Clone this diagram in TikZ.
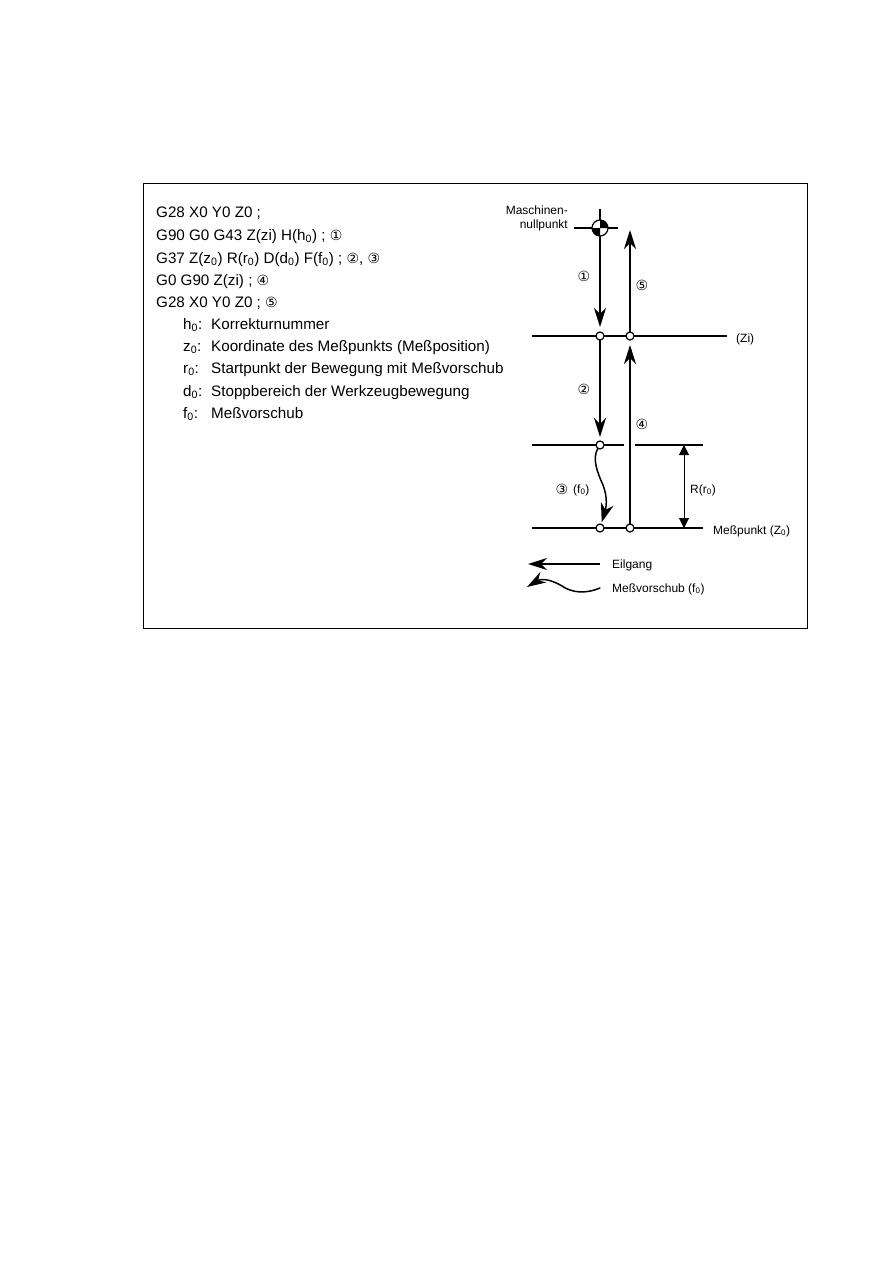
\documentclass[tikz,border=0pt]{standalone}
\usepackage{fontspec}
\setmainfont{Liberation Sans}
\newfontfamily\circfont{DejaVu Sans}
\usetikzlibrary{positioning}
\usetikzlibrary{arrows.meta}
\newcommand{\circled}[1]{{\circfont\fontsize{14}{16}\selectfont #1}}
\begin{document}
\begin{tikzpicture}[
x=1pt, y=-1pt,
codeline/.style={anchor=base west, inner sep=0pt, font=\fontsize{15.2}{18}\selectfont},
smalltext/.style={inner sep=0pt, font=\fontsize{12}{14}\selectfont},
point/.style={circle, draw=black, fill=white, line width=1.2pt, minimum size=8pt, inner sep=0pt, outer sep=0pt},
levelline/.style={line width=1.2pt},
rapid/.style={line width=1.7pt, -{Stealth[length=19pt, width=12pt, inset=6pt]}},
feed/.style={line width=1.5pt, line cap=round, -{Stealth[length=19pt, width=13pt, inset=6pt]}}
]
\useasboundingbox (0,0) rectangle (893,1263);

%Frame
\node[draw=black, line width=1pt, minimum width=664pt, minimum height=445pt, inner sep=0pt] (frame) at (475,405.5) {};

%Program
\node[codeline] (line1) at (156,217) {G28 X0 Y0 Z0 ;};
\node[codeline] (line2) at (156,240) {G90 G0 G43 Z(zi) H(h\textsubscript{0}) ; \circled{①}};
\node[codeline] (line3) at (156,263) {G37 Z(z\textsubscript{0}) R(r\textsubscript{0}) D(d\textsubscript{0}) F(f\textsubscript{0}) ; \circled{②}, \circled{③}};
\node[codeline] (line4) at (156,285) {G0 G90 Z(zi) ; \circled{④}};
\node[codeline] (line5) at (156,307) {G28 X0 Y0 Z0 ; \circled{⑤}};
\node[codeline] (key1) at (183,329) {h\textsubscript{0}:};
\node[codeline] (key2) at (183,351) {z\textsubscript{0}:};
\node[codeline] (key3) at (183,373) {r\textsubscript{0}:};
\node[codeline] (key4) at (183,396) {d\textsubscript{0}:};
\node[codeline] (key5) at (183,418) {f\textsubscript{0}:};
\node[codeline] (text1) at (211,329) {Korrekturnummer};
\node[codeline] (text2) at (211,351) {Koordinate des Meßpunkts (Meßposition)};
\node[codeline] (text3) at (211,373) {Startpunkt der Bewegung mit Meßvorschub};
\node[codeline] (text4) at (211,396) {Stoppbereich der Werkzeugbewegung};
\node[codeline] (text5) at (211,418) {Meßvorschub};

%Nodes
\node[point, minimum size=16pt] (origin) at (600,228) {};
\node[point] (zi1) at (600,336) {};
\node[point] (zi2) at (630,336) {};
\node[point] (start) at (600,445) {};
\node[point] (meas1) at (600,528) {};
\node[point] (meas2) at (630,528) {};

%Coordinates
\coordinate (originleft) at (574,228);
\coordinate (originright) at (618,228);
\coordinate (origintop) at (600,209);
\coordinate (top5) at (630,230);
\coordinate (zileft) at (532,336);
\coordinate (ziright) at (727,336);
\coordinate (startleft) at (532,445);
\coordinate (startgap1) at (624,445);
\coordinate (startgap2) at (635,445);
\coordinate (startright) at (703,445);
\coordinate (measleft) at (532,528);
\coordinate (measright) at (703,528);
\coordinate (rtop) at (684,445);
\coordinate (rbottom) at (684,528);
\coordinate (rapidend) at (600,564);
\coordinate (rapidtip) at (528,564);
\coordinate (feedend) at (600,588);
\coordinate (feedtip) at (527,587);

%Lines
\draw[levelline] (originleft) -- (origin);
\draw[levelline] (origin) -- (originright);
\draw[levelline] (origintop) -- (origin);
\fill (origin.center) -- (origin.east) arc[start angle=0, end angle=90, radius=8pt] -- cycle;
\fill (origin.center) -- (origin.west) arc[start angle=180, end angle=270, radius=8pt] -- cycle;
\draw[levelline] (zileft) -- (zi1);
\draw[levelline] (zi1) -- (zi2);
\draw[levelline] (zi2) -- (ziright);
\draw[levelline] (startleft) -- (start);
\draw[levelline] (start) -- (startgap1);
\draw[levelline] (startgap2) -- (startright);
\draw[levelline] (measleft) -- (meas1);
\draw[levelline] (meas1) -- (meas2);
\draw[levelline] (meas2) -- (measright);

\draw[rapid, shorten >=5pt] (origin) -- (zi1);
\draw[rapid, shorten >=4pt] (zi1) -- (start);
\draw[rapid] (zi2) -- (top5);
\draw[rapid, shorten >=5pt] (meas2) -- (zi2);
\draw[feed, shorten >=2pt] (start) .. controls (592,458) and (597,472) .. (603,485) .. controls (608,498) and (606,508) .. (meas1);
\draw[line width=1pt, {Stealth[length=10pt, width=10pt, inset=0pt]}-{Stealth[length=10pt, width=10pt, inset=0pt]}] (rtop) -- (rbottom);

%Legend
\draw[rapid, {Stealth[length=19pt, width=12pt, inset=6pt]}-] (rapidtip) -- (rapidend);
\draw[line width=1.5pt, line cap=round, {Stealth[length=19pt, width=12pt, inset=6pt]}-] (feedtip) .. controls (542,578) and (552,580) .. (562,586) .. controls (572,593) and (586,594) .. (feedend);
\node[smalltext, right=12pt of rapidend, yshift=-1pt] (rapidlabel) {Eilgang};
\node[smalltext, right=12pt of feedend, yshift=-1pt] (feedlabel) {Meßvorschub (f\textsubscript{0})};

%Labels
\node[smalltext, align=right, anchor=east] (originlabel) at (568,218) {Maschinen-\\nullpunkt};
\node[smalltext, right=9pt of ziright, yshift=-3pt] (zilabel) {(Zi)};
\node[smalltext, right=10pt of measright, yshift=-3pt] (measlabel) {Meßpunkt (Z\textsubscript{0})};
\node[smalltext, anchor=west] (rlabel) at (690,490) {R(r\textsubscript{0})};
\node[inner sep=0pt] (num1) at (584,276) {\circled{①}};
\node[inner sep=0pt] (num5) at (642,285) {\circled{⑤}};
\node[inner sep=0pt] (num2) at (584,389) {\circled{②}};
\node[inner sep=0pt] (num4) at (642,424) {\circled{④}};
\node[inner sep=0pt] (num3) at (562,489) {\circled{③}};
\node[smalltext, anchor=west] (feedvalue) at (573,490) {(f\textsubscript{0})};

\end{tikzpicture}
\end{document}
